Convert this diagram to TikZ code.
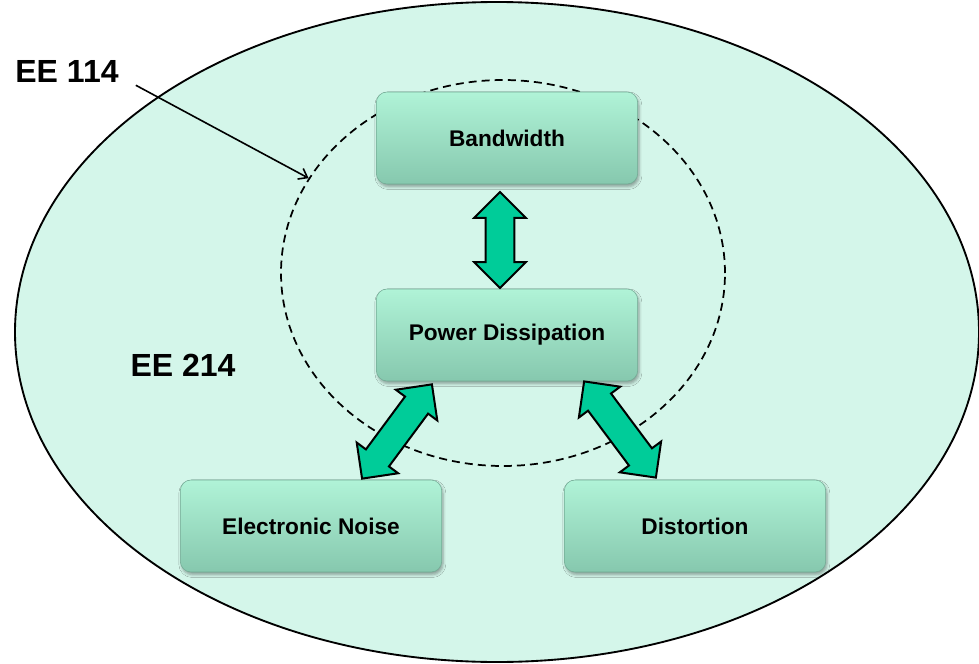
\documentclass[tikz,border=0pt]{standalone}
\usepackage{fontspec}
\setmainfont{Liberation Sans}
\usetikzlibrary{positioning,calc,shapes.geometric,shapes.arrows,arrows.meta,shadows.blur}
\definecolor{mintbg}{RGB}{212,246,234}
\definecolor{boxtop}{RGB}{176,243,215}
\definecolor{boxbot}{RGB}{134,200,174}
\definecolor{arrowgreen}{RGB}{0,204,153}

\begin{document}
\begin{tikzpicture}[x=0.75pt, y=-0.75pt,
    box_node/.style={rectangle, rounded corners=8pt, minimum width=196pt, minimum height=69pt, top color=boxtop, bottom color=boxbot, draw=boxbot!85!black, line width=0.4pt, blur shadow={shadow xshift=1pt, shadow yshift=-2pt, shadow opacity=35}, font=\fontsize{17}{20}\selectfont\bfseries},
    ee_label/.style={font=\fontsize{24}{28}\selectfont\bfseries, inner sep=0pt},
    dbl_arrow/.style={double arrow, draw=black, fill=arrowgreen, line width=1.5pt, inner xsep=0pt, inner ysep=10pt, minimum width=37.5pt, double arrow head extend=8.6pt, double arrow tip angle=90, sloped}
]
\useasboundingbox (0,0) rectangle (979,664);

% course regions
\node[ellipse, draw, line width=1.4pt, fill=mintbg, minimum width=723pt, minimum height=495pt, inner sep=0pt] (ee214zone) at (497,332) {};
\node[ellipse, draw, dash pattern=on 6pt off 3.8pt, line width=1.3pt, minimum width=333pt, minimum height=289.5pt, inner sep=0pt] (ee114zone) at (503,273) {};

% labels
\node[ee_label] (ee114) at (67,71) {EE 114};
\node[ee_label] (ee214) at (183,365) {EE 214};
\draw[-{Straight Barb[length=6pt, width=9pt]}, line width=1.2pt] ($(ee114.south east)+(17,3)$) -- (ee114zone.154);

% topics
\node[box_node] (bw) at (507,138) {Bandwidth};
\node[box_node] (pd) at (507,335) {Power Dissipation};
\node[box_node] (noise) at (311,526) {Electronic Noise};
\node[box_node] (dist) at (695,526) {Distortion};

% trade-offs
\path ($(bw.south)+(-7,8)$) -- node[dbl_arrow, minimum height=72pt] {} ($(pd.north)+(-7,-1)$);
\path ($(pd.south)+(-75,3)$) -- node[dbl_arrow, minimum height=88pt] {} ($(noise.north)+(51,-1)$);
\path ($(pd.south)+(77,0)$) -- node[dbl_arrow, minimum height=90pt] {} ($(dist.north)+(-39,-2)$);

\end{tikzpicture}
\end{document}
